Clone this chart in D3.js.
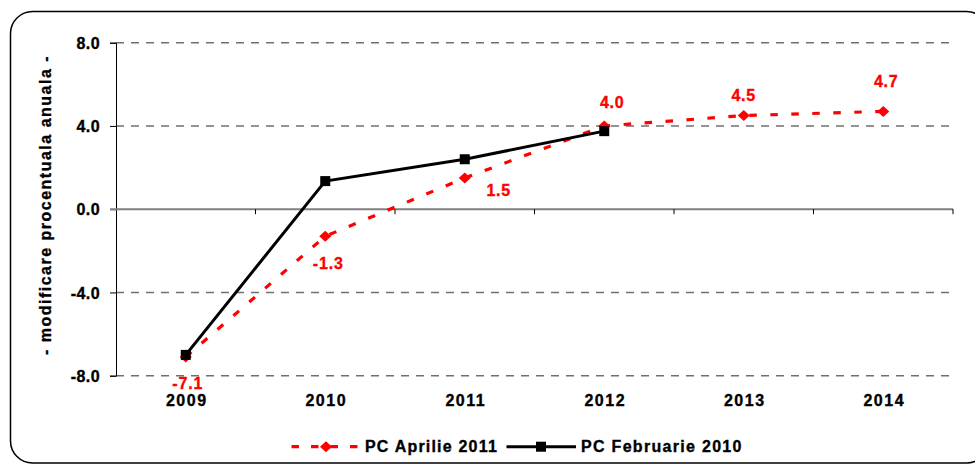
<!DOCTYPE html>
<html>
<head>
<meta charset="utf-8">
<script src="https://cdn.jsdelivr.net/npm/d3@7"></script>
<style>
  html, body { margin: 0; padding: 0; background: #fff; }
  svg { display: block; }
  text { font-family: "Liberation Sans", Arial, sans-serif; font-weight: bold; stroke-width: 0.35px; }
</style>
</head>
<body>
<svg id="chart" width="975" height="465"></svg>
<script>
// ---- data ----
const years = ["2009", "2010", "2011", "2012", "2013", "2014"];
const aprilie2011 = [-7.1, -1.3, 1.5, 4.0, 4.5, 4.7];
const februarie2010 = [-7.0, 1.35, 2.4, 3.75, null, null];
const yTicks = [-8, -4, 0, 4, 8];
const seriesNames = ["PC Aprilie 2011", "PC Februarie 2010"];
const yTitle = "- modificare procentuala anuala -";

// ---- layout (label nudges, px) ----
const labelOffsets = [[2, 26], [3, 27], [34, 12], [8, -24], [0, -20], [3, -30]];

(function () {
const svg = d3.select("#chart");
const pLeft = 116, pRight = 953, pTop = 42.7, pBottom = 375.7;
const fmt = v => d3.format(".1f")(v).replace("\u2212", "-");

const x = d3.scalePoint().domain(years).range([pLeft, pRight]).padding(0.5);
const y = d3.scaleLinear().domain([-8, 8]).range([pBottom, pTop]);
const step = x.step();

// border
svg.append("rect")
  .attr("x", 10.5).attr("y", 11.5).attr("width", 978).attr("height", 451.5)
  .attr("rx", 22).attr("ry", 22)
  .attr("fill", "none").attr("stroke", "#000").attr("stroke-width", 1.5);

// gridlines
svg.append("g").selectAll("line")
  .data(yTicks.filter(d => d !== 0))
  .join("line")
  .attr("x1", pLeft).attr("x2", pRight)
  .attr("y1", d => y(d)).attr("y2", d => y(d))
  .attr("stroke", "#707070").attr("stroke-width", 1.6)
  .attr("stroke-dasharray", "8,7");

// y axis
const yAxis = d3.axisLeft(y).tickValues(yTicks).tickSize(6).tickFormat(fmt);
const gy = svg.append("g").attr("transform", `translate(${pLeft},0)`).call(yAxis);
gy.select(".domain").attr("stroke", "#000").attr("stroke-width", 1);
gy.selectAll(".tick line").attr("stroke", "#000");
gy.selectAll(".tick text")
  .attr("x", -16)
  .attr("dy", "0.36em")
  .style("font-size", "16px")
  .style("font-family", "'Liberation Sans', Arial, sans-serif")
  .style("font-weight", "bold")
  .style("letter-spacing", "0.4px")
  .attr("fill", "#000").attr("stroke", "#000");

// zero line (category axis)
svg.append("line")
  .attr("x1", pLeft - 6).attr("x2", pRight)
  .attr("y1", y(0)).attr("y2", y(0))
  .attr("stroke", "#808080").attr("stroke-width", 2);
svg.append("g").selectAll("line")
  .data(years)
  .join("line")
  .attr("x1", d => x(d) + step / 2).attr("x2", d => x(d) + step / 2)
  .attr("y1", y(0)).attr("y2", y(0) + 5)
  .attr("stroke", "#000").attr("stroke-width", 1);

// category labels
svg.append("g").selectAll("text")
  .data(years)
  .join("text")
  .attr("x", d => x(d) + 1)
  .attr("y", pBottom + 30.5)
  .attr("text-anchor", "middle")
  .style("font-size", "16px")
  .style("letter-spacing", "1.5px")
  .attr("fill", "#000").attr("stroke", "#000")
  .text(d => d);

// y title
svg.append("text")
  .attr("transform", `translate(51,205) rotate(-90)`)
  .attr("text-anchor", "middle")
  .style("font-size", "16px")
  .style("letter-spacing", "1.5px")
  .attr("fill", "#000").attr("stroke", "#000")
  .text(yTitle);

const diamond = (cx, cy) => `M${cx},${cy - 5.5}L${cx + 6},${cy}L${cx},${cy + 5.5}L${cx - 6},${cy}Z`;

// red series
const redPts = years.map((d, i) => ({ year: d, v: aprilie2011[i], i }));
const line = d3.line().defined(d => d.v != null).x(d => x(d.year)).y(d => y(d.v));
svg.append("path")
  .datum(redPts)
  .attr("d", line)
  .attr("fill", "none").attr("stroke", "#ff0000").attr("stroke-width", 3.2)
  .attr("stroke-dasharray", "7.5,13.5");
svg.append("g").selectAll("path")
  .data(redPts)
  .join("path")
  .attr("d", d => diamond(x(d.year), y(d.v)))
  .attr("fill", "#ff0000");

// black series
const blackPts = years.map((d, i) => ({ year: d, v: februarie2010[i], i })).filter(d => d.v != null);
svg.append("path")
  .datum(blackPts)
  .attr("d", line)
  .attr("fill", "none").attr("stroke", "#000").attr("stroke-width", 3);
svg.append("g").selectAll("rect")
  .data(blackPts)
  .join("rect")
  .attr("x", d => x(d.year) - 5).attr("y", d => y(d.v) - 5)
  .attr("width", 10).attr("height", 10)
  .attr("fill", "#000");

// data labels
svg.append("g").selectAll("text")
  .data(redPts)
  .join("text")
  .attr("x", d => x(d.year) + labelOffsets[d.i][0])
  .attr("y", d => y(d.v) + labelOffsets[d.i][1])
  .attr("dy", "0.36em")
  .attr("text-anchor", "middle")
  .style("font-size", "16px")
  .style("letter-spacing", "0.8px")
  .attr("fill", "#ff0000").attr("stroke", "#ff0000")
  .text(d => fmt(d.v));

// legend
const ly = 446.7;
const lg = svg.append("g");
lg.append("line")
  .attr("x1", 291.5).attr("x2", 359).attr("y1", ly).attr("y2", ly)
  .attr("stroke", "#ff0000").attr("stroke-width", 3.2)
  .attr("stroke-dasharray", "7.5,12");
lg.append("path").attr("d", diamond(326, ly)).attr("fill", "#ff0000");
lg.append("text")
  .attr("x", 365).attr("y", ly).attr("dy", "0.36em")
  .style("font-size", "16px").style("letter-spacing", "1.2px")
  .attr("fill", "#000").attr("stroke", "#000").text(seriesNames[0]);
lg.append("line")
  .attr("x1", 506.5).attr("x2", 576).attr("y1", ly).attr("y2", ly)
  .attr("stroke", "#000").attr("stroke-width", 3);
lg.append("rect").attr("x", 536).attr("y", ly - 5).attr("width", 10).attr("height", 10).attr("fill", "#000");
lg.append("text")
  .attr("x", 581).attr("y", ly).attr("dy", "0.36em")
  .style("font-size", "16px").style("letter-spacing", "1.3px")
  .attr("fill", "#000").attr("stroke", "#000").text(seriesNames[1]);
})();
</script>
</body>
</html>
